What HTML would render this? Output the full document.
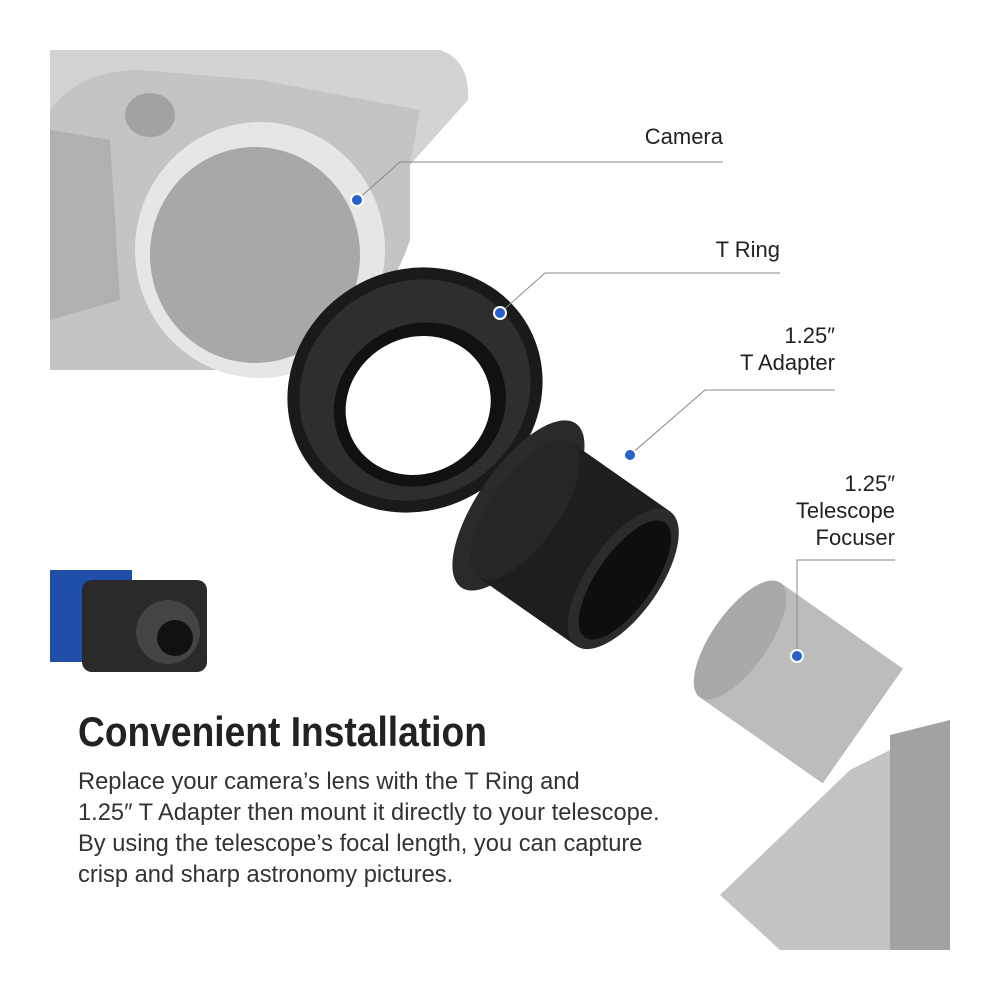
<!DOCTYPE html>
<html><head><meta charset="utf-8"><style>
body{margin:0;background:#fff;}
.wrap{position:relative;width:1000px;height:1000px;overflow:hidden;background:#fff;font-family:"Liberation Sans",sans-serif;}
.lbl{position:absolute;color:#222;font-size:22px;text-align:right;line-height:27px;}
h1{position:absolute;left:78px;top:708px;margin:0;font-size:42px;font-weight:bold;color:#222;transform:scaleX(0.885);transform-origin:left top;white-space:nowrap;}
p{position:absolute;left:78px;top:767px;margin:0;font-size:23.7px;line-height:31px;color:#333;white-space:nowrap;}
</style></head><body><div class="wrap">
<svg width="1000" height="1000" style="position:absolute;left:0;top:0">
<!-- camera body -->
<path d="M50 50 L440 50 Q470 60 468 100 L410 165 L410 230 Q380 300 300 370 L50 370 Z" fill="#d3d3d3"/>
<path d="M50 110 Q80 70 140 70 L260 80 L420 110 L410 165 L410 240 Q380 330 290 370 L50 370 Z" fill="#c4c4c4"/>
<ellipse cx="260" cy="250" rx="125" ry="128" fill="#e6e6e6"/>
<ellipse cx="255" cy="255" rx="105" ry="108" fill="#a8a8a8"/>
<ellipse cx="150" cy="115" rx="25" ry="22" fill="#a2a2a2"/>
<path d="M50 130 L110 140 L120 300 L50 320 Z" fill="#b0b0b0"/>
<!-- T ring -->
<g transform="rotate(-30 415 390)">
<ellipse cx="415" cy="390" rx="130" ry="120" fill="#1a1a1a"/>
<ellipse cx="415" cy="390" rx="118" ry="108" fill="#2e2e2e"/>
<ellipse cx="412" cy="405" rx="88" ry="80" fill="#111"/>
<ellipse cx="410" cy="405" rx="74" ry="68" fill="#fff"/>
</g>
<!-- T adapter -->
<g transform="translate(525,510) rotate(35)">
<ellipse cx="-8" cy="0" rx="40" ry="100" fill="#2a2a2a"/>
<rect x="0" y="-82" width="120" height="164" fill="#1e1e1e"/>
<ellipse cx="0" cy="0" rx="34" ry="82" fill="#262626"/>
<ellipse cx="120" cy="0" rx="36" ry="82" fill="#2b2b2b"/>
<ellipse cx="122" cy="0" rx="28" ry="70" fill="#0e0e0e"/>
</g>
<!-- telescope -->
<g transform="translate(740,640) rotate(35)">
<rect x="0" y="-70" width="150" height="140" fill="#bcbcbc"/>
<ellipse cx="0" cy="0" rx="28" ry="70" fill="#a9a9a9"/>
</g>
<path d="M720 895 L850 770 L950 720 L950 950 L780 950 Z" fill="#c4c4c4"/>
<path d="M890 735 L950 720 L950 950 L890 950 Z" fill="#a2a2a2"/>
<!-- inset -->
<rect x="50" y="570" width="82" height="92" fill="#1f4fa8"/>
<rect x="82" y="580" width="125" height="92" rx="10" fill="#2a2a2a"/>
<circle cx="168" cy="632" r="32" fill="#444"/>
<circle cx="175" cy="638" r="18" fill="#111"/>
<!-- leader lines -->
<g stroke="#888" stroke-width="1" fill="none">
<path d="M357 200 L400 162 L723 162"/>
<path d="M500 313 L545 273 L780 273"/>
<path d="M630 455 L705 390 L835 390"/>
<path d="M797 656 L797 560 L895 560"/>
</g>
<g fill="#2660c8" stroke="#fff" stroke-width="2">
<circle cx="357" cy="200" r="6"/><circle cx="500" cy="313" r="6"/>
<circle cx="630" cy="455" r="6"/><circle cx="797" cy="656" r="6"/>
</g>
</svg>
<div class="lbl" style="right:277px;top:123px">Camera</div>
<div class="lbl" style="right:220px;top:236px">T Ring</div>
<div class="lbl" style="right:165px;top:322px">1.25″<br>T Adapter</div>
<div class="lbl" style="right:105px;top:470px">1.25″<br>Telescope<br>Focuser</div>
<h1>Convenient Installation</h1>
<p>Replace your camera’s lens with the T Ring and<br>1.25″ T Adapter then mount it directly to your telescope.<br>By using the telescope’s focal length, you can capture<br>crisp and sharp astronomy pictures.</p>
</div></body></html>
